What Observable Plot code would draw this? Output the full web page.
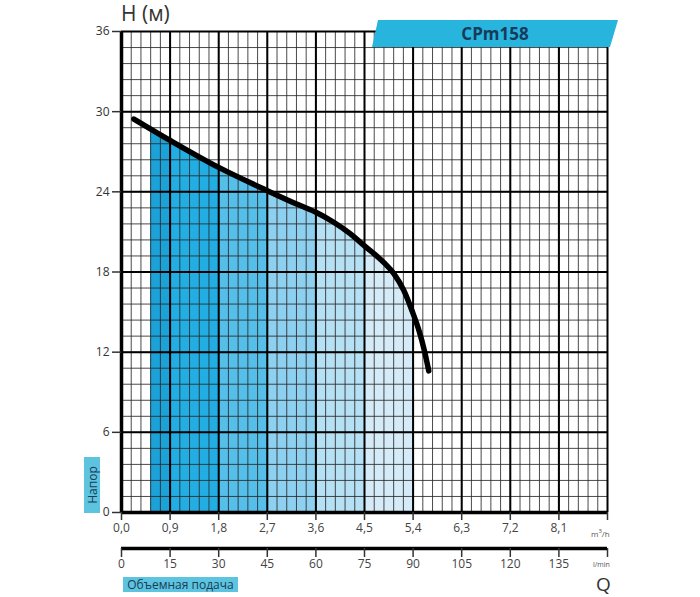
<!DOCTYPE html>
<html><head><meta charset="utf-8">
<script src="https://cdn.jsdelivr.net/npm/d3@7"></script>
<script src="https://cdn.jsdelivr.net/npm/@observablehq/plot@0.6"></script>
<style>
body{margin:0;background:#fff;}
#wrap{position:relative;width:700px;height:597px;font-family:"Open Sans",sans-serif;color:#333;overflow:hidden;}
#wrap svg{position:absolute;left:0;top:0;}
.ov{position:absolute;white-space:nowrap;}
#htitle{left:121px;top:0px;font-size:21px;line-height:26px;color:#333;}
#badge{left:372px;top:20px;width:246px;height:27px;background:#28b5dd;clip-path:polygon(6px 0,100% 0,calc(100% - 8px) 100%,0 100%);font-weight:700;font-size:17px;line-height:27px;color:#173b5c;text-align:center;}
#napor{left:84px;top:457px;width:16px;height:56px;background:#5cc4df;}
#napor span{position:absolute;left:50%;top:50%;transform:translate(-50%,-50%) rotate(-90deg);font-size:12px;color:#1b3b58;}
#obem{left:123px;top:577px;width:115px;height:15px;background:#5cc4df;font-size:12px;line-height:15px;color:#1b3b58;text-align:center;}
#q{left:596px;top:573px;font-size:19px;line-height:22px;color:#333;}
#m3h{left:591px;top:527px;font-size:8px;color:#555;}
#lmin{left:593px;top:560px;font-size:7px;color:#555;}
</style></head><body>
<div id="wrap">
  <div class="ov" id="htitle">H (м)</div>
  <div class="ov" id="badge">CPm158</div>
  <div class="ov" id="napor"><span>Напор</span></div>
  <div class="ov" id="obem">Объемная подача</div>
  <div class="ov" id="q">Q</div>
  <div class="ov" id="m3h">m<sup style="font-size:6px">3</sup>/h</div>
  <div class="ov" id="lmin">l/min</div>
</div>
<script>
// Pump curve: flow (m³/h) and head (m)
const flowM3h = [0.23, 0.91, 1.80, 2.70, 3.31, 3.60, 3.93, 4.24, 4.50, 4.86, 5.04, 5.23, 5.38, 5.51, 5.61, 5.69];
const headM   = [29.45, 27.83, 25.83, 24.09, 22.97, 22.47, 21.72, 20.85, 19.95, 18.7, 17.9, 16.6, 15.1, 13.6, 12.1, 10.6];
// Shaded working region under the curve
const fillFlow = [0.54, 0.91, 1.80, 2.70, 3.31, 3.60, 3.93, 4.24, 4.50, 4.86, 5.04, 5.23, 5.40];
const fillHead = [28.6, 27.83, 25.83, 24.09, 22.97, 22.47, 21.72, 20.85, 19.95, 18.7, 17.9, 16.6, 14.9];
// Colour bands of the shading
const bandEdges  = [0.54, 0.9, 1.8, 2.7, 3.6, 4.5, 5.4];
const bandColors = ["#1ba2d9", "#22aee3", "#55bee9", "#8ed0ef", "#b6e0f4", "#d5ecf8"];
// Axes
const xTicks = [0, 0.9, 1.8, 2.7, 3.6, 4.5, 5.4, 6.3, 7.2, 8.1, 9.0];
const xTickLabels = ["0,0", "0,9", "1,8", "2,7", "3,6", "4,5", "5,4", "6,3", "7,2", "8,1", ""];
const lpmLabels = ["0", "15", "30", "45", "60", "75", "90", "105", "120", "135", ""];
const yTicks = [0, 6, 12, 18, 24, 30, 36];

const xMinor = d3.range(0, 51).map(i => +(i * 0.18).toFixed(2));
const yMinor = d3.range(0, 31).map(i => +(i * 1.2).toFixed(2));

const curveRows = flowM3h.map((q, i) => ({q, h: headM[i]}));
const fillRows = fillFlow.map((q, i) => ({q, h: fillHead[i]}));
const xLab = new Map(xTicks.map((t, i) => [t, xTickLabels[i]]));
const lLab = new Map(xTicks.map((t, i) => [t, lpmLabels[i]]));

const chart = Plot.plot({
  width: 700, height: 597,
  marginLeft: 121, marginRight: 93, marginTop: 31, marginBottom: 85,
  x: {domain: [0, 9]},
  y: {domain: [0, 36]},
  style: {fontFamily: "'Open Sans', sans-serif", fontSize: "12px", color: "#333", background: "transparent", overflow: "visible"},
  marks: [
    Plot.areaY(fillRows, {x: "q", y: "h", fill: "url(#bandFill)", curve: "monotone-x"}),
    Plot.gridX(xMinor, {stroke: "#2a2a2a", strokeOpacity: 0.85, strokeWidth: 1}),
    Plot.gridY(yMinor, {stroke: "#2a2a2a", strokeOpacity: 0.85, strokeWidth: 1}),
    Plot.gridX(xTicks, {stroke: "#000", strokeOpacity: 1, strokeWidth: 2}),
    Plot.gridY(yTicks, {stroke: "#000", strokeOpacity: 1, strokeWidth: 2}),
    Plot.ruleX([0], {stroke: "#000", strokeWidth: 3.5}),
    Plot.ruleY([0], {stroke: "#000", strokeWidth: 3.5}),
    Plot.ruleY([0], {stroke: "#000", strokeWidth: 3.5, dy: 36}),
    Plot.axisY(yTicks, {tickSize: 9, tickPadding: 3, strokeWidth: 1.5, label: null, fill: "#333"}),
    Plot.axisX(xTicks, {tickSize: 8, tickPadding: 3, strokeWidth: 1.5, label: null, tickFormat: d => xLab.get(d), fill: "#444"}),
    Plot.axisX(xTicks, {dy: 36, tickSize: 9, tickPadding: 2, strokeWidth: 1.5, label: null, tickFormat: d => lLab.get(d), fill: "#444"}),
    Plot.line(curveRows, {x: "q", y: "h", stroke: "#000", strokeWidth: 5.5, strokeLinecap: "round", curve: "monotone-x"})
  ]
});

const span = bandEdges[bandEdges.length - 1] - bandEdges[0];
const grad = d3.select(chart).insert("defs", ":first-child")
  .append("linearGradient").attr("id", "bandFill")
  .attr("x1", 0).attr("x2", 1).attr("y1", 0).attr("y2", 0);
bandColors.forEach((c, i) => {
  grad.append("stop").attr("offset", (bandEdges[i] - bandEdges[0]) / span).attr("stop-color", c);
  grad.append("stop").attr("offset", (bandEdges[i + 1] - bandEdges[0]) / span).attr("stop-color", c);
});

const wrap = document.getElementById("wrap");
wrap.insertBefore(chart, wrap.firstChild);
</script>
</body></html>
